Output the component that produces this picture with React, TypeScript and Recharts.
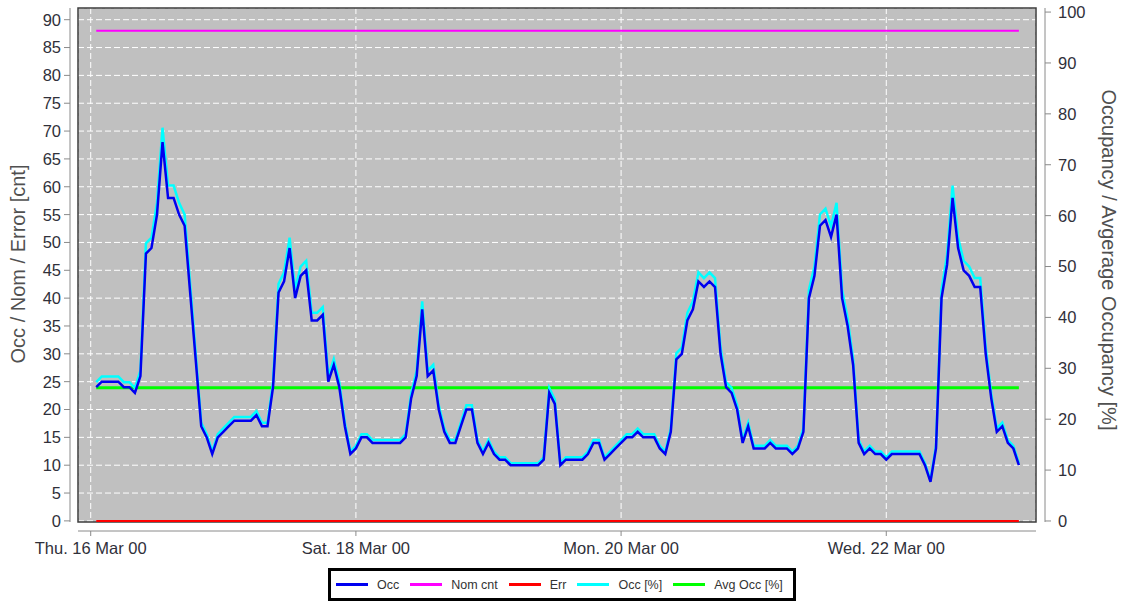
import { LineChart, Line, XAxis, YAxis, CartesianGrid, Legend, Customized } from 'recharts'

// hourly occupancy count, from Thu 16 Mar 01:00 (hour 1) to Thu 23 Mar 00:00 (hour 168)
const occ = [
  24, 25, 25, 25, 25, 24, 24, 23, 26, 48, 49, 55, 68, 58, 58, 55, 53, 41, 29, 17, 15, 12, 15, 16,
  17, 18, 18, 18, 18, 19, 17, 17, 24, 41, 43, 49, 40, 44, 45, 36, 36, 37, 25, 28, 24, 17, 12, 13,
  15, 15, 14, 14, 14, 14, 14, 14, 15, 22, 26, 38, 26, 27, 20, 16, 14, 14, 17, 20, 20, 14, 12, 14,
  12, 11, 11, 10, 10, 10, 10, 10, 10, 11, 23, 21, 10, 11, 11, 11, 11, 12, 14, 14, 11, 12, 13, 14,
  15, 15, 16, 15, 15, 15, 13, 12, 16, 29, 30, 36, 38, 43, 42, 43, 42, 30, 24, 23, 20, 14, 17, 13,
  13, 13, 14, 13, 13, 13, 12, 13, 16, 40, 44, 53, 54, 51, 55, 40, 35, 28, 14, 12, 13, 12, 12, 11,
  12, 12, 12, 12, 12, 12, 10, 7, 13, 40, 46, 58, 49, 45, 44, 42, 42, 30, 22, 16, 17, 14, 13, 10,
]
const nomCnt = 88
const errCnt = 0
const avgOccPct = 26.2

const dayTicks = [0, 48, 96, 144]
const dayLabels = ['Thu. 16 Mar 00', 'Sat. 18 Mar 00', 'Mon. 20 Mar 00', 'Wed. 22 Mar 00']
const cntTicks = [0, 5, 10, 15, 20, 25, 30, 35, 40, 45, 50, 55, 60, 65, 70, 75, 80, 85, 90]
const pctTicks = [0, 10, 20, 30, 40, 50, 60, 70, 80, 90, 100]

const legendItems = [
  { name: 'Occ', color: '#0000f0' },
  { name: 'Nom cnt', color: '#ff00ff' },
  { name: 'Err', color: '#ff0000' },
  { name: 'Occ [%]', color: '#00ffff' },
  { name: 'Avg Occ [%]', color: '#00ff00' },
]

// Occ [%] is the count relative to the nominal count
const data = occ.map((v, i) => ({
  h: i + 1,
  occ: v,
  pct: (v / nomCnt) * 100,
  nom: nomCnt,
  err: errCnt,
  avg: avgOccPct,
}))

const W = 1123
const H = 603
const PLOT = { left: 78, right: 1036, top: 8, bottom: 522 }
const FONT = '"Liberation Sans", Arial, sans-serif'
const TXT = '#30303a'
const AXIS = '#8a8a8a'

const LeftTick = ({ x, y, payload }: any) => (
  <g>
    <line x1={x - 14} x2={x - 8} y1={y} y2={y} stroke={AXIS} />
    <text x={x - 17} y={y} dy="0.36em" textAnchor="end" fontSize={16.5} fontFamily={FONT} fill={TXT}>
      {payload.value}
    </text>
  </g>
)

const RightTick = ({ x, y, payload }: any) => (
  <g>
    <line x1={x + 9} x2={x + 15} y1={y} y2={y} stroke={AXIS} />
    <text x={x + 22} y={y} dy="0.36em" textAnchor="start" fontSize={16.5} fontFamily={FONT} fill={TXT}>
      {payload.value}
    </text>
  </g>
)

const BottomTick = ({ x, y, payload }: any) => (
  <g>
    <line x1={x} x2={x} y1={y + 9} y2={y + 14} stroke={AXIS} />
    <text x={x} y={y + 32} textAnchor="middle" fontSize={16.5} fontFamily={FONT} fill={TXT}>
      {dayLabels[dayTicks.indexOf(payload.value)]}
    </text>
  </g>
)

const Frame = () => (
  <g>
    <rect x={PLOT.left} y={PLOT.top} width={PLOT.right - PLOT.left} height={PLOT.bottom - PLOT.top}
      fill="none" stroke="#3c3c3c" strokeWidth={1.5} />
    <line x1={PLOT.left - 8} x2={PLOT.left - 8} y1={PLOT.top} y2={PLOT.bottom} stroke={AXIS} />
    <line x1={PLOT.right + 9} x2={PLOT.right + 9} y1={PLOT.top} y2={PLOT.bottom} stroke={AXIS} />
    <line x1={PLOT.left} x2={PLOT.right} y1={PLOT.bottom + 9} y2={PLOT.bottom + 9} stroke={AXIS} />
    <text transform="translate(18,264) rotate(-90)" textAnchor="middle"
      dy="0.36em" fontSize={20} fontFamily={FONT} fill="#505050">
      Occ / Nom / Error [cnt]
    </text>
    <text transform="translate(1109,260) rotate(90)" textAnchor="middle"
      dy="0.36em" fontSize={20} fontFamily={FONT} fill="#505050">
      Occupancy / Avgerage Occupancy [%]
    </text>
  </g>
)

const LegendBox = () => (
  <div style={{
    boxSizing: 'border-box', width: 468, height: 33, border: '3px solid #000', background: '#fff',
    display: 'flex', alignItems: 'center', paddingLeft: 5, fontFamily: FONT, fontSize: 12.5, color: '#333',
    whiteSpace: 'nowrap',
  }}>
    {legendItems.map((it) => (
      <div key={it.name} style={{ display: 'flex', alignItems: 'center', marginRight: 11, flexShrink: 0 }}>
        <span style={{ display: 'inline-block', width: 32, height: 3, background: it.color, marginRight: 9 }} />
        <span>{it.name}</span>
      </div>
    ))}
  </div>
)

export default function App() {
  return (
    <div style={{ position: 'absolute', left: 0, top: 0, width: W, height: H, background: '#fff' }}>
      <LineChart width={W} height={H} data={data} margin={{ top: PLOT.top, right: 0, bottom: 0, left: 0 }}>
        <CartesianGrid yAxisId="left" fill="#c0c0c0" stroke="#ffffff" strokeDasharray="6 3" />
        <XAxis dataKey="h" type="number" domain={[-2.3, 171.1]} ticks={dayTicks} allowDataOverflow
          height={H - PLOT.bottom} tickSize={0} tickMargin={0} axisLine={false} tick={<BottomTick />}
          interval={0} />
        <YAxis yAxisId="left" orientation="left" domain={[-0.2, 92.1]} ticks={cntTicks} allowDataOverflow
          width={PLOT.left} tickSize={0} tickMargin={0} axisLine={false} tick={<LeftTick />} interval={0} />
        <YAxis yAxisId="right" orientation="right" domain={[-0.2, 100.8]} ticks={pctTicks} allowDataOverflow
          width={W - PLOT.right} tickSize={0} tickMargin={0} axisLine={false} tick={<RightTick />} interval={0} />
        <Customized component={<Frame />} />
        <Line yAxisId="right" dataKey="avg" stroke="#00ff00" strokeWidth={3} dot={false} isAnimationActive={false} />
        <Line yAxisId="left" dataKey="nom" stroke="#ff00ff" strokeWidth={2} dot={false} isAnimationActive={false} />
        <Line yAxisId="left" dataKey="err" stroke="#ff0000" strokeWidth={2} dot={false} isAnimationActive={false} />
        <Line yAxisId="right" dataKey="pct" stroke="#00ffff" strokeWidth={2.5} dot={false} isAnimationActive={false} />
        <Line yAxisId="left" dataKey="occ" stroke="#0000f0" strokeWidth={2.5} dot={false} isAnimationActive={false} />
        <Legend layout="horizontal" verticalAlign="middle" align="center" content={<LegendBox />}
          wrapperStyle={{ left: 328, top: 568, width: 468, height: 33 }} />
      </LineChart>
    </div>
  )
}
